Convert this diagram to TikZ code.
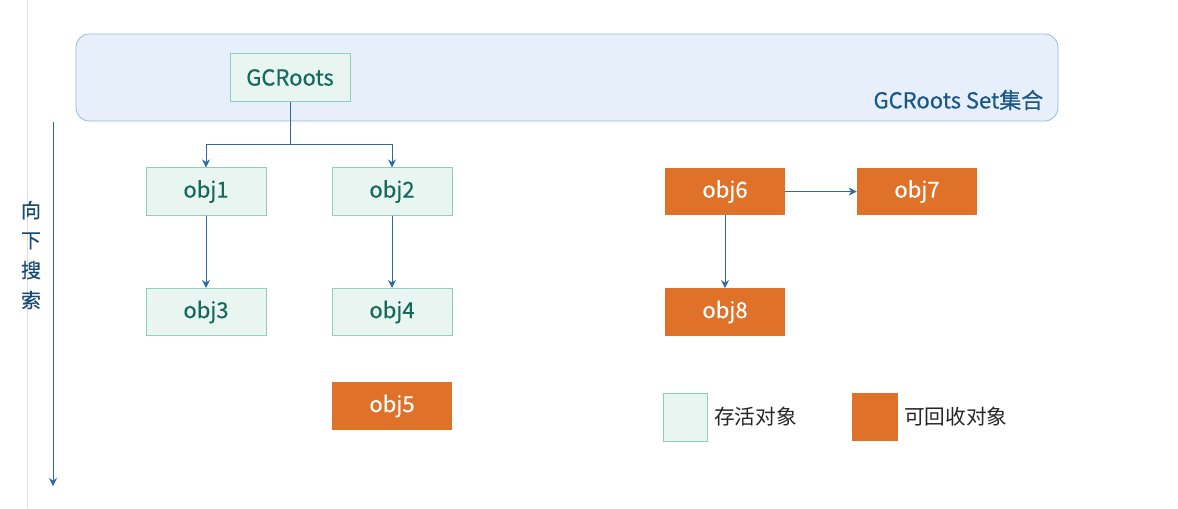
\documentclass[tikz,border=0pt]{standalone}
\usepackage{fontspec}
\setmainfont{Noto Sans CJK SC}
\newfontfamily\labelfont{Noto Sans CJK SC}[FakeBold=0.5]
\usetikzlibrary{positioning,arrows.meta}

\definecolor{liveFill}{HTML}{E8F5F1}
\definecolor{liveLine}{HTML}{8CCFBD}
\definecolor{liveText}{HTML}{156A5C}
\definecolor{deadFill}{HTML}{E07129}
\definecolor{setFill}{HTML}{E7F0FA}
\definecolor{setLine}{HTML}{93B8E2}
\definecolor{setText}{HTML}{1B5788}
\definecolor{linkBlue}{HTML}{2C6AA3}

\tikzset{
  objbox/.style={minimum width=90pt, minimum height=35.5pt, inner sep=0pt,
    font=\labelfont\fontsize{16.5}{18}\selectfont},
  live/.style={objbox, draw=liveLine, line width=0.6pt, fill=liveFill, text=liveText},
  dead/.style={objbox, fill=deadFill, text=white},
  link/.style={->, draw=linkBlue, line width=0.6pt},
}

\begin{document}
\begin{tikzpicture}[x=0.75pt, y=-0.75pt, >={Stealth[length=6pt, width=6pt]}]

    \useasboundingbox (0,0) rectangle (1178,508);

    % guide line
    \draw[black!13, line width=0.6pt] (27,0) -- (27,508);

    % root set
    \draw[setLine, fill=setFill, rounded corners=10pt, line width=0.6pt]
        (76,34) rectangle (1058,121);
    \node[anchor=east, text=setText, font=\labelfont\fontsize{16.5}{18}\selectfont]
        (setLabel) at (1048,100) {GCRoots Set集合};

    % objects
    \node[live] (roots) at (290,77.5) {GCRoots};
    \node[live] (obj1) at (206,191.5) {obj1};
    \node[live] (obj2) at (392,191.5) {obj2};
    \node[live] (obj3) at (206,312) {obj3};
    \node[live] (obj4) at (392,312) {obj4};
    \node[dead] (obj5) at (392,406) {obj5};
    \node[dead] (obj6) at (725,191.5) {obj6};
    \node[dead] (obj7) at (917,191.5) {obj7};
    \node[dead] (obj8) at (725,312) {obj8};

    % references
    \coordinate (split) at (290,144);
    \draw[linkBlue, line width=0.6pt] (roots) -- (split);
    \draw[link] (split) -| (obj1);
    \draw[link] (split) -| (obj2);
    \draw[link] (obj1) -- (obj3);
    \draw[link] (obj2) -- (obj4);
    \draw[link] (obj6) -- (obj7);
    \draw[link] (obj6) -- (obj8);

    % search direction
    \coordinate (searchTop) at (53,122);
    \coordinate (searchEnd) at (53,486);
    \draw[link] (searchTop) -- (searchEnd);
    \node[align=center, text=setText!85!black,
        font=\labelfont\fontsize{15}{22.5}\selectfont] (search) at (31,255)
        {向\\下\\搜\\索};

    % legend
    \node[live, minimum width=33.5pt, minimum height=36pt] (legLive) at (685.5,417) {};
    \node[right=1pt of legLive, text=black!85, font=\fontsize{15.5}{18}\selectfont]
        (legLiveText) {存活对象};
    \node[dead, minimum width=34.5pt, minimum height=36pt] (legDead) at (875,417) {};
    \node[right=1pt of legDead, text=black!85, font=\fontsize{15.5}{18}\selectfont]
        (legDeadText) {可回收对象};

\end{tikzpicture}
\end{document}
